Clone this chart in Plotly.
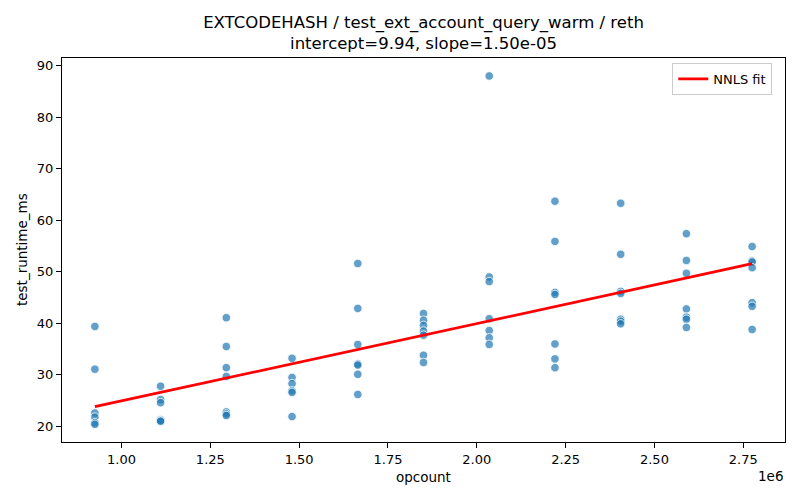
import plotly.graph_objects as go

# ---- data ----
opcount_levels = [925000, 1110000, 1295000, 1480000, 1665000, 1850000,
                  2035000, 2220000, 2405000, 2590000, 2775000]
runtime_925 = [39.4, 31.1, 22.6, 21.8, 20.7, 20.4]
runtime_1110 = [27.8, 25.2, 24.6, 21.3, 21.1, 21.0]
runtime_1295 = [41.1, 35.5, 31.4, 29.7, 22.8, 22.4, 22.1]
runtime_1480 = [33.2, 29.5, 28.3, 26.9, 26.6, 21.9]
runtime_1665 = [51.6, 42.9, 35.9, 32.1, 31.9, 30.1, 26.2]
runtime_1850 = [41.9, 40.6, 39.6, 38.5, 37.7, 33.8, 32.4]
runtime_2035 = [88.0, 49.0, 48.1, 40.9, 38.6, 37.2, 35.9]
runtime_2220 = [63.7, 55.9, 46.0, 45.6, 36.0, 33.1, 31.4]
runtime_2405 = [63.3, 53.4, 46.2, 45.8, 40.8, 40.4, 39.9]
runtime_2590 = [57.4, 52.2, 49.7, 42.8, 41.2, 40.8, 39.2]
runtime_2775 = [54.9, 52.1, 51.9, 50.8, 44.0, 43.3, 38.8]

intercept = 9.94
slope = 1.50e-05

x_tickvals = [1.0e6, 1.25e6, 1.5e6, 1.75e6, 2.0e6, 2.25e6, 2.5e6, 2.75e6]
x_ticktext = ["1.00", "1.25", "1.50", "1.75", "2.00", "2.25", "2.50", "2.75"]
y_tickvals = [20, 30, 40, 50, 60, 70, 80, 90]

runtime_groups = [runtime_925, runtime_1110, runtime_1295, runtime_1480,
                  runtime_1665, runtime_1850, runtime_2035, runtime_2220,
                  runtime_2405, runtime_2590, runtime_2775]

xs, ys = [], []
for lvl, vals in zip(opcount_levels, runtime_groups):
    for v in vals:
        xs.append(lvl)
        ys.append(v)

fit_x = [min(opcount_levels), max(opcount_levels)]
fit_y = [intercept + slope * x for x in fit_x]

FONT = "DejaVu Sans, Liberation Sans, sans-serif"

fig = go.Figure()
fig.add_trace(go.Scatter(
    x=xs, y=ys, mode="markers", showlegend=False,
    marker=dict(size=8.5, color="rgba(31,119,180,0.7)",
                line=dict(color="white", width=0.8)),
))
fig.add_trace(go.Scatter(
    x=fit_x, y=fit_y, mode="lines", name="NNLS fit",
    line=dict(color="red", width=2.8),
))

axis_common = dict(
    showgrid=False, zeroline=False, showline=True, mirror=True,
    linecolor="black", linewidth=1.1, ticks="outside", ticklen=5,
    tickwidth=1.1, tickcolor="black", automargin=False,
    tickfont=dict(family=FONT, size=13, color="black"),
)

# page body adds an 8px offset; figure is sized to fit inside 800x500
W, H = 792, 492
L, R, T, B = 54, 15, 50, 58

fig.update_layout(
    width=W, height=H,
    paper_bgcolor="white", plot_bgcolor="white",
    margin=dict(l=L, r=R, t=T, b=B),
    font=dict(family=FONT, color="black"),
    title=dict(
        text="EXTCODEHASH / test_ext_account_query_warm / reth<br>intercept=9.94, slope=1.50e-05",
        x=(L + (W - R - L) / 2) / W, xanchor="center", y=1 - 20 / H, yanchor="top",
        font=dict(family=FONT, size=16.5, color="black"),
    ),
    xaxis=dict(
        range=[832500, 2867500], tickvals=x_tickvals, ticktext=x_ticktext,
        **axis_common,
    ),
    yaxis=dict(
        range=[16.97, 91.49], tickvals=y_tickvals,
        **axis_common,
    ),
    legend=dict(
        x=0.9824, y=0.987, xanchor="right", yanchor="top",
        bgcolor="rgba(255,255,255,0.8)", bordercolor="#cccccc", borderwidth=1,
        font=dict(family=FONT, size=13, color="black"),
    ),
    annotations=[
        dict(text="opcount", xref="paper", yref="paper", x=0.5, y=-0.0911,
             xanchor="center", yanchor="middle", showarrow=False,
             font=dict(family=FONT, size=13.5, color="black")),
        dict(text="test_runtime_ms", xref="paper", yref="paper", x=-0.0553, y=0.5,
             xanchor="center", yanchor="middle", textangle=-90, showarrow=False,
             font=dict(family=FONT, size=13.5, color="black")),
        dict(text="1e6", xref="paper", yref="paper", x=1.0, y=-0.0885,
             xanchor="right", yanchor="middle", showarrow=False,
             font=dict(family=FONT, size=13.5, color="black")),
    ],
)

fig.write_html("out.html")
